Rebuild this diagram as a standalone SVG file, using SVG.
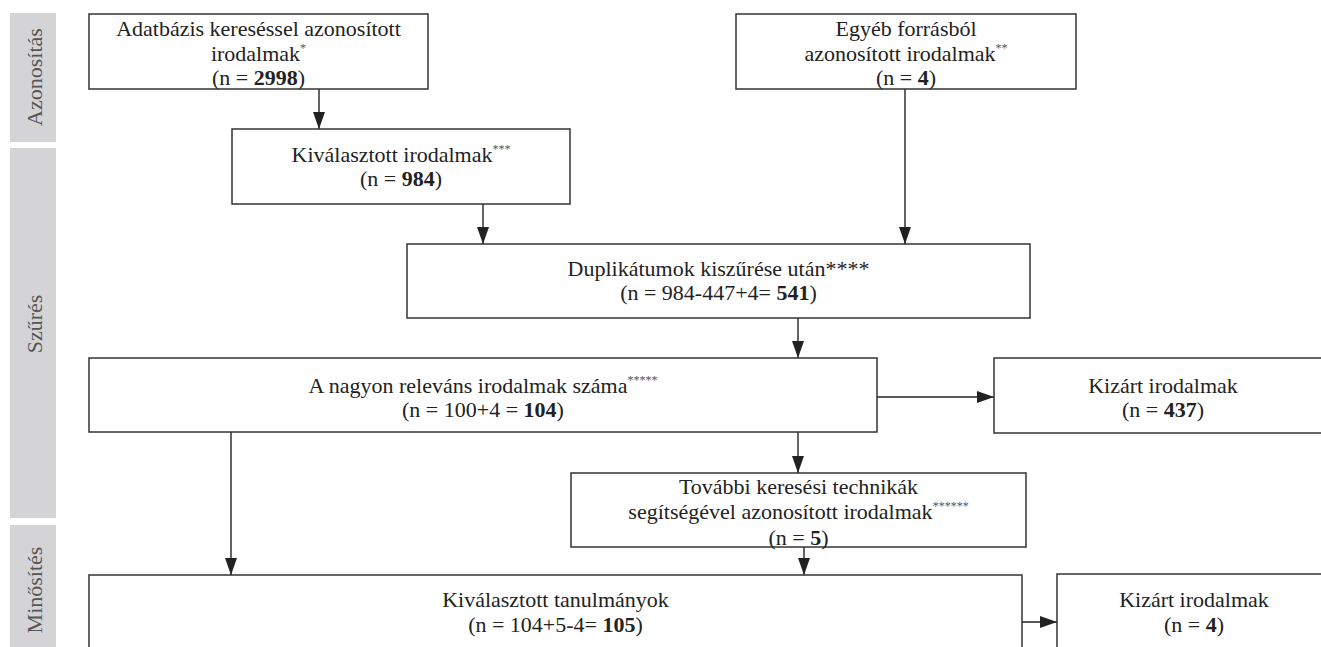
<svg xmlns="http://www.w3.org/2000/svg" width="1321" height="647" viewBox="0 0 1321 647">
<defs>
<style>
.bar{fill:#d4d4d6;}
.side{font-family:'Liberation Serif','DejaVu Serif',serif;font-size:22px;fill:#555;text-anchor:middle;}
.box{fill:#fff;stroke:#333;stroke-width:1.5;}
.t{font-family:'Liberation Serif','DejaVu Serif',serif;font-size:22px;fill:#222;text-anchor:middle;}
.b{font-weight:bold;}
.sup{font-size:12px;fill:#555;}
.ln{fill:none;stroke:#222;stroke-width:1.4;}
</style>
<marker id="ah" markerUnits="userSpaceOnUse" markerWidth="17" markerHeight="12" refX="17" refY="6" orient="auto">
<path d="M0,0 L17,6 L0,12 Z" fill="#222"/>
</marker>
</defs>
<rect width="1321" height="647" fill="#fff"/>
<g id="lanes">
<rect class="bar" x="10" y="13" width="46" height="129"/>
<rect class="bar" x="10" y="148" width="46" height="370"/>
<rect class="bar" x="10" y="525" width="46" height="122"/>
<text class="side" transform="translate(42,77) rotate(-90)">Azonosítás</text>
<text class="side" transform="translate(42,324) rotate(-90)">Szűrés</text>
<text class="side" transform="translate(42,590) rotate(-90)">Minősítés</text>
</g>
<g id="connectors">
<line class="ln" x1="319" y1="89" x2="319" y2="129" marker-end="url(#ah)"/>
<line class="ln" x1="905" y1="89" x2="905" y2="244" marker-end="url(#ah)"/>
<line class="ln" x1="483" y1="204" x2="483" y2="244" marker-end="url(#ah)"/>
<line class="ln" x1="798" y1="318" x2="798" y2="358" marker-end="url(#ah)"/>
<line class="ln" x1="877" y1="397" x2="994" y2="397" marker-end="url(#ah)"/>
<line class="ln" x1="231" y1="432" x2="231" y2="575" marker-end="url(#ah)"/>
<line class="ln" x1="798" y1="432" x2="798" y2="473" marker-end="url(#ah)"/>
<line class="ln" x1="804" y1="547" x2="804" y2="575" marker-end="url(#ah)"/>
<line class="ln" x1="1022" y1="622" x2="1057" y2="622" marker-end="url(#ah)"/>
</g>
<g id="n1">
<rect class="box" x="89" y="14" width="339" height="75"/>
<text class="t" x="258.5" y="36">Adatbázis kereséssel azonosított</text>
<text class="t" x="258.5" y="60.5">irodalmak<tspan class="sup" dy="-9">*</tspan></text>
<text class="t" x="258.5" y="85">(n = <tspan class="b">2998</tspan>)</text>
</g>
<g id="n2">
<rect class="box" x="232" y="129" width="338" height="75"/>
<text class="t" x="401" y="162">Kiválasztott irodalmak<tspan class="sup" dy="-9">***</tspan></text>
<text class="t" x="401" y="186">(n = <tspan class="b">984</tspan>)</text>
</g>
<g id="n3">
<rect class="box" x="736" y="14" width="340" height="75"/>
<text class="t" x="906" y="36">Egyéb forrásból</text>
<text class="t" x="906" y="60.5">azonosított irodalmak<tspan class="sup" dy="-9">**</tspan></text>
<text class="t" x="906" y="85">(n = <tspan class="b">4</tspan>)</text>
</g>
<g id="n4">
<rect class="box" x="407" y="244" width="623" height="74"/>
<text class="t" x="718.5" y="276">Duplikátumok kiszűrése után****</text>
<text class="t" x="718.5" y="300">(n = 984-447+4= <tspan class="b">541</tspan>)</text>
</g>
<g id="n5">
<rect class="box" x="89" y="358" width="788" height="74"/>
<text class="t" x="483" y="393">A nagyon releváns irodalmak száma<tspan class="sup" dy="-9">*****</tspan></text>
<text class="t" x="483" y="417">(n = 100+4 = <tspan class="b">104</tspan>)</text>
</g>
<g id="n6">
<rect class="box" x="994" y="358" width="338" height="75"/>
<text class="t" x="1163" y="393">Kizárt irodalmak</text>
<text class="t" x="1163" y="417">(n = <tspan class="b">437</tspan>)</text>
</g>
<g id="n8">
<rect class="box" x="571" y="473" width="455" height="74"/>
<text class="t" x="798.5" y="494">További keresési technikák</text>
<text class="t" x="798.5" y="519">segítségével azonosított irodalmak<tspan class="sup" dy="-9">******</tspan></text>
<text class="t" x="798.5" y="545">(n = <tspan class="b">5</tspan>)</text>
</g>
<g id="n7">
<rect class="box" x="89" y="575" width="933" height="90"/>
<text class="t" x="555.5" y="607">Kiválasztott tanulmányok</text>
<text class="t" x="555.5" y="632">(n = 104+5-4= <tspan class="b">105</tspan>)</text>
</g>
<g id="n9">
<rect class="box" x="1057" y="574" width="274" height="90"/>
<text class="t" x="1194" y="607">Kizárt irodalmak</text>
<text class="t" x="1194" y="632">(n = <tspan class="b">4</tspan>)</text>
</g>
</svg>
